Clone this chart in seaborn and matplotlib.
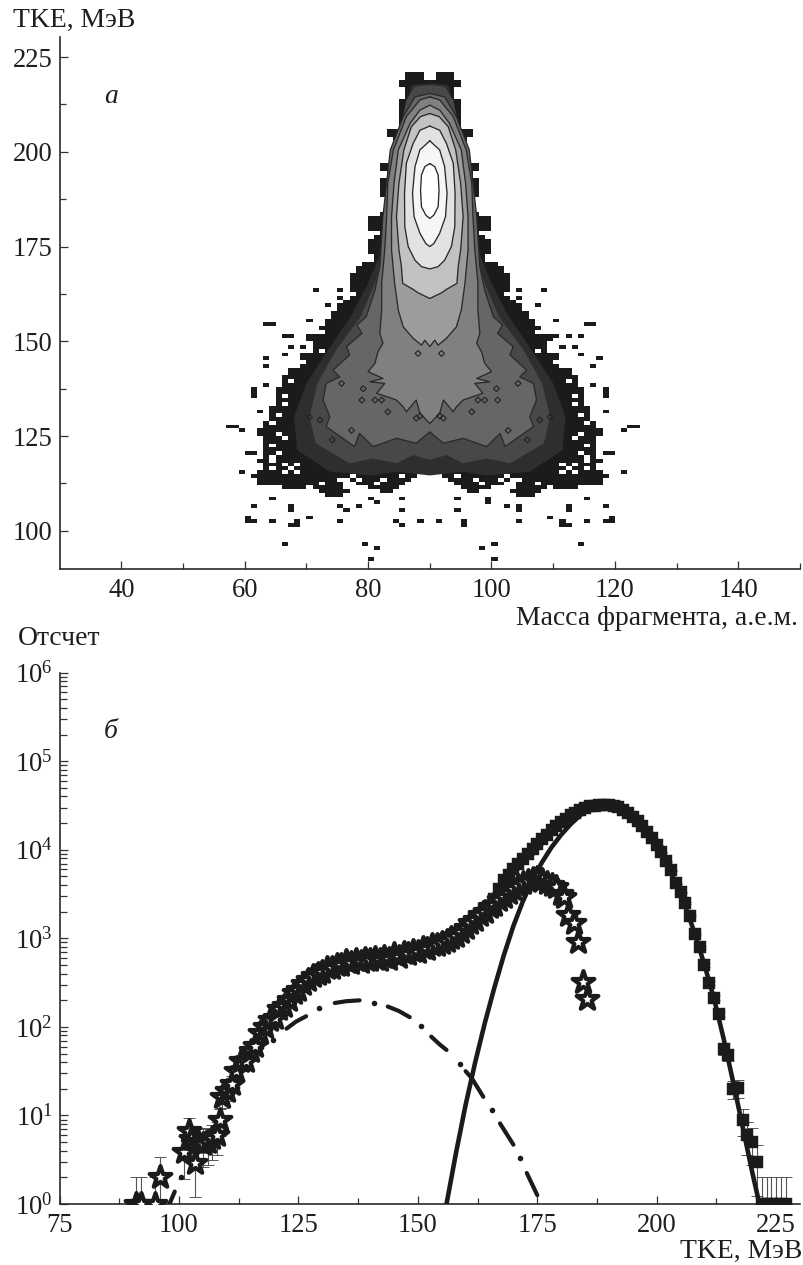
import numpy as np
import pandas as pd
import seaborn as sns
import matplotlib
matplotlib.use("Agg")
import matplotlib.pyplot as plt
from matplotlib.colors import ListedColormap
from matplotlib.ticker import FixedLocator, NullFormatter

# ---------- panel a: TKE vs fragment mass, mirrored about the centre mass ----------
centre_mass = 90
mass_ticks = [40, 60, 80, 100, 120, 140]
mass_minor = [50, 70, 90, 110, 130, 150]
tke_ticks_a = [100, 125, 150, 175, 200, 225]
tke_minor_a = [112.5, 137.5, 162.5, 187.5, 212.5]

# contour outlines (TKE, half-width in mass units) from the outermost to the innermost
tke_c9 = [218, 217.6, 209.3, 191.7, 174.1, 165.3, 156.5, 147.7, 138.9, 130.1, 121.3, 115.6, 114.6, 115.6, 114.6]
hw_c9 = [0, 3, 4, 6.2, 7.8, 10, 12.8, 16.5, 20, 22, 21.5, 16.2, 9.2, 5.4, 0]
tke_c8 = [217.6, 217.2, 213.7, 204.9, 191.7, 174.1, 165.3, 156.5, 147.7, 138.9, 130.1, 123.1, 117.8, 119.1, 117.8, 120, 118.7]
hw_c8 = [0, 2.4, 3.8, 4.9, 5.8, 7.2, 8.9, 11.2, 15.2, 18.2, 19.5, 18.5, 13, 9.2, 5.4, 2.7, 0]
tke_c7 = [215.4, 214.5, 209.3, 200.5, 182.9, 169.7, 163.5, 156.5, 154.3, 152.1, 148.6, 146.4, 142.4, 140.6, 138.9, 134.5, 130.1, 127.5, 124.4, 122.2, 125.7, 122.2, 124.4, 123.1, 126.1]
hw_c7 = [0, 2.4, 4.3, 6.4, 7.6, 8.1, 8.9, 10.3, 11.8, 11, 13.5, 13, 15.7, 14.6, 16.8, 17.3, 16.2, 16.8, 14.1, 12.2, 11.4, 9.2, 5.4, 2.2, 0]
tke_c6 = [214.5, 213.7, 209.3, 200.5, 191.7, 182.9, 174.1, 165.3, 158.2, 152.1, 149.5, 147.2, 144.2, 142, 140.2, 139.3, 138.9, 136.3, 134.5, 132.7, 131.4, 134.5, 131, 128.3]
hw_c6 = [0, 1.6, 3.8, 5.9, 6.8, 7, 7.3, 7.8, 7.8, 8.1, 7.6, 8.4, 8.9, 10, 7.6, 9.7, 7.3, 8.6, 5.4, 4.3, 3.8, 2.2, 1.6, 0]
tke_c5 = [212.3, 211, 207.5, 200.5, 191.7, 182.9, 174.1, 165.3, 158.2, 153.8, 150.8, 149, 150.3, 148.6]
hw_c5 = [0, 1.6, 3.2, 5.1, 5.8, 6.2, 6.2, 5.7, 5.1, 4.3, 2.7, 1.35, 0.8, 0]
tke_c4 = [210.1, 209.3, 206.6, 200.5, 191.7, 182.9, 174.1, 169.7, 165.3, 163.7, 162.8, 161.3]
hw_c4 = [0, 1.5, 3, 4.2, 5, 5.4, 5, 4.6, 4.4, 2.7, 1.9, 0]
tke_c3 = [206.8, 205.7, 202.2, 197, 189, 180.2, 175, 171.4, 169.7, 169.1]
hw_c3 = [0, 1.6, 2.7, 3.8, 4.1, 4.05, 3.5, 2.4, 1.35, 0]
tke_c2 = [202.9, 200.5, 196.1, 189, 182.9, 178.5, 175.8, 175]
hw_c2 = [0, 1.6, 2.4, 2.8, 2.55, 1.6, 0.65, 0]
tke_c1 = [196.9, 196.1, 193.9, 189.9, 185.5, 183.3, 182.4]
hw_c1 = [0, 0.8, 1.35, 1.5, 1.35, 0.65, 0]
contour_greys = ["#2e2e2e", "#484848", "#666666", "#808080", "#9c9c9c", "#c2c2c2", "#e2e2e2", "#f6f6f6", "#ffffff"]

# outer jagged edge, one value per 1 MeV row from 220.5 downwards
black_top_tke = 220.5
black_outer_hw = [3.5, 3.5, 4.5, 4.5, 3.8, 3.8, 4, 4.3, 4.3, 4.6, 4.6, 4.8, 4.8, 5, 5, 6.5, 6.5, 5.5, 5.5, 5.5, 5.5, 6, 6, 6,
                  7.5, 7.5, 6.5, 6.5, 7.5, 7.5, 7.5, 7.5, 7.5, 7, 7, 7, 7, 7.5, 9.5, 9.5, 10, 9.5, 8, 9, 9.5, 10, 10, 9.5, 9, 9,
                  10.5, 11.5, 11.5, 13, 13, 13, 12.5, 12.5, 12, 13, 14, 15, 15, 16, 16, 16.5, 16.5, 18, 18, 19.5,
                  19.5, 19, 19, 18.5, 20.5, 20.5, 20, 20.5, 22.5, 22.5, 23.5, 23.5, 23.5, 24.5, 24.5, 25, 25, 25, 26, 26,
                  26, 26, 27, 27, 27, 27.5, 27, 26.5, 27, 27, 26.5, 26.5, 27.5, 26.5, 26.5, 27.5, 28.5]
# lower rows: TKE, inner and outer half-width of each contiguous span
span_tke = [113.5, 113.5, 112.5, 112.5, 111.5, 111.5, 110.5, 110.5, 109.5, 114.5]
span_inner = [3, 15, 4, 14, 5, 14, 13, 6, 14, 1.5]
span_outer = [13, 28, 12, 27, 10, 24, 18, 8, 17, 28.5]
notch_tke = [220.5, 219.5, 114.5, 114.5]
notch_hw = [0.5, 0.5, 0.5, 1.5]
# holes in the dark rim
hole_tke = [117.5, 117.5, 120.5, 116.5, 115.5, 125.5, 128.5, 133.5, 122.5, 118.5, 139.5, 119.5, 116.5, 147.5, 152.5,
            113.5, 113.5, 112.5, 112.5, 111.5, 114.5, 114.5, 115.5, 124.5, 135.5, 130.5]
hole_hw = [21.5, 23.5, 24.5, 22.5, 21.5, 24.5, 25.5, 23.5, 25.5, 25.5, 22.5, 25.5, 25.5, 17.5, 17.5,
           7.5, 11.5, 8.5, 17.5, 19.5, 4.5, 12.5, 23.5, 23.5, 23.5, 24.5]
# stray cells, mirrored
stray_hw = [18.1, 14.1, 14.1, 17, 20, 25.2, 26.2, 24, 22.2, 20, 27, 24, 26.2, 23, 21, 26.2, 28.1, 28.1, 28.1, 28, 27.6, 31, 32, 33,
            28.9, 29.9, 31, 27.8, 25.9, 28.1, 22.7, 28.9, 29.9, 25.3, 21.9, 29.5, 22.2, 19.7, 21.2, 22.2, 14.7, 14, 14.7, 5.5, 5,
            24, 10.4, 8.5, 10, 1.9, 4.7, 4.7, 9.5, 9, 12]
stray_tke = [163.8, 163.8, 161.6, 159.6, 155.6, 154.7, 154.7, 151.4, 151.4, 151.7, 145.5, 146.6, 143.7, 148.7, 148.7, 138.9, 137.5,
             136.5, 135.5, 131.7, 126.6, 126.6, 127.6, 127.6, 120.7, 120.7, 115.6, 112.7, 108.5, 106.5, 106.5, 102.5, 102.5, 102.5,
             102.5, 103.5, 105.5, 103.5, 101.5, 101.5, 102.5, 105.5, 106.5, 102.5, 101.5, 96.5, 96.5, 95.5, 92.5, 102.5, 108.5,
             105.5, 108.5, 107.5, 106.5]
# small closed contour loops inside the dark part
loop_hw = [6.8, 2.2, 1.6, 7.8, 11, 8.9, 14.3, 17.8, 10.8, 1.9, 12.7, 15.8, 19.5]
loop_tke = [131.4, 129.7, 130.3, 134.5, 134.5, 134.5, 138.9, 129.2, 137.5, 146.8, 126.5, 124, 130]

# ---------- panel b: counts vs TKE ----------
tke_ticks_b = [75, 100, 125, 150, 175, 200, 225]
tke_minor_b = [87.5, 112.5, 137.5, 162.5, 187.5, 212.5]
count_ticks = [1, 10, 100, 1000, 10000, 100000, 1000000]
star_tke = [91, 92, 95, 96, 101, 102, 102.6, 103.3, 104, 105, 106, 107, 108, 108.5, 109] + list(range(110, 181)) + [180.5, 181.5, 182.6, 183.5, 184.5, 185.5]
star_log = [0, 0, 0, 0.3, 0.59, 0.83, 0.73, 0.46, 0.7, 0.68, 0.7, 0.74, 0.78, 0.95, 1.21,
            1.28, 1.36, 1.5, 1.62, 1.62, 1.73, 1.78, 1.93, 2.0, 2.08, 2.1, 2.2, 2.24, 2.3, 2.38, 2.42, 2.49, 2.53, 2.58, 2.6, 2.62,
            2.66, 2.66, 2.7, 2.7, 2.74, 2.72, 2.75, 2.73, 2.77, 2.75, 2.78, 2.76, 2.79, 2.77, 2.82, 2.79, 2.84, 2.82, 2.86, 2.85,
            2.89, 2.88, 2.92, 2.93, 2.95, 2.97, 3.0, 3.03, 3.07, 3.12, 3.17, 3.21, 3.26, 3.3, 3.35, 3.38, 3.43, 3.47, 3.51, 3.56,
            3.59, 3.62, 3.65, 3.67, 3.68, 3.66, 3.62, 3.6, 3.58, 3.5, 3.47, 3.26, 3.17, 2.96, 2.51, 2.32]
square_tke = list(range(166, 228))
square_log = [3.44, 3.56, 3.66, 3.72, 3.78, 3.84, 3.9, 3.95, 4.01, 4.06, 4.12, 4.17, 4.22, 4.27, 4.31, 4.35, 4.39, 4.42, 4.45, 4.47,
              4.49, 4.5, 4.51, 4.51, 4.51, 4.5, 4.48, 4.45, 4.42, 4.37, 4.32, 4.27, 4.2, 4.13, 4.05, 3.97, 3.87, 3.77, 3.62, 3.52,
              3.4, 3.25, 3.05, 2.9, 2.7, 2.5, 2.33, 2.15, 1.75, 1.68, 1.3, 1.31, 0.95, 0.78, 0.7, 0.47, 0, 0, 0, 0, 0, 0]
fit_main_tke = [156, 158, 160, 162, 164, 166, 168, 170, 172, 174, 176, 178, 180, 182, 184, 186, 188, 190, 192, 194, 196, 198, 200,
                202, 204, 206, 208, 210, 212, 214, 216, 218, 220, 221.5]
fit_main_log = [0, 0.58, 1.12, 1.6, 2.04, 2.44, 2.81, 3.14, 3.42, 3.66, 3.86, 4.03, 4.17, 4.29, 4.39, 4.46, 4.5, 4.51, 4.48, 4.42, 4.33,
                4.2, 4.05, 3.86, 3.62, 3.36, 3.05, 2.7, 2.32, 1.87, 1.38, 0.87, 0.36, 0]
# the dash-dot curve: visible dashes and dots
dash_tke = [[98, 99.1], [122.5, 124.5, 126.6], [132.6, 135, 137.8], [143.7, 146, 148.3], [152.8, 154.6, 156], [160, 161.3, 163.7], [167.2, 170], [172.8, 175]]
dash_log = [[0, 0.14], [1.98, 2.06, 2.12], [2.27, 2.29, 2.3], [2.23, 2.18, 2.11], [1.89, 1.8, 1.74], [1.5, 1.42, 1.21], [0.91, 0.67], [0.35, 0.1]]
dot_tke = [100.5, 119.7, 129.4, 140.8, 150.6, 158.8, 165.5, 171.3]
dot_log = [0.31, 1.85, 2.21, 2.27, 2.01, 1.58, 1.06, 0.52]

# ---------- style ----------
sns.set_theme(style="ticks")
INK = "#1e1e1e"
plt.rcParams["font.family"] = ["Liberation Serif", "DejaVu Serif"]
plt.rcParams["mathtext.fontset"] = "custom"
plt.rcParams["mathtext.rm"] = "Liberation Serif"
plt.rcParams["mathtext.it"] = "Liberation Serif:italic"
plt.rcParams["mathtext.default"] = "rm"
plt.rcParams.update({"font.size": 19.2, "text.color": INK, "axes.labelcolor": INK, "xtick.color": "#333333",
                     "ytick.color": "#333333", "xtick.labelcolor": INK, "ytick.labelcolor": INK})

W, H = 804, 1265
fig = plt.figure(figsize=(W / 100, H / 100), dpi=100)


def add_axes(left, top, right, bottom):
    return fig.add_axes([left / W, 1 - bottom / H, (right - left) / W, (bottom - top) / H])


ax_a = add_axes(59.6, 37, 800, 568.7)
ax_b = add_axes(59.6, 672.7, 800, 1204)

# ---------- panel a ----------
cells = {"mass": [], "tke": []}


def add_cell(hw, tke):
    for sign in (-1, 1):
        cells["mass"].append(centre_mass + sign * hw)
        cells["tke"].append(tke)


holes = set(zip(hole_tke, hole_hw)) | set(zip(notch_tke, notch_hw))
for i, outer in enumerate(black_outer_hw):
    tke = black_top_tke - i
    if tke == 114.5:
        continue
    for k in range(int(np.ceil(outer))):
        if (tke, k + 0.5) not in holes:
            add_cell(k + 0.5, tke)
for t, lo, hi in zip(span_tke, span_inner, span_outer):
    for k in range(int(lo), int(np.ceil(hi))):
        if (t, k + 0.5) not in holes:
            add_cell(k + 0.5, t)
for h, t in zip(stray_hw, stray_tke):
    add_cell(h, t)

mass_edges = np.arange(30, 151, 1)
tke_edges = np.arange(90, 232, 1)
sns.histplot(data=pd.DataFrame(cells), x="mass", y="tke", bins=(mass_edges, tke_edges),
             cmap=ListedColormap(["#1b1b1b"]), thresh=0, cbar=False, ax=ax_a, zorder=1)

outlines = [(tke_c9, hw_c9), (tke_c8, hw_c8), (tke_c7, hw_c7), (tke_c6, hw_c6), (tke_c5, hw_c5),
            (tke_c4, hw_c4), (tke_c3, hw_c3), (tke_c2, hw_c2), (tke_c1, hw_c1)]
for n, ((t, h), grey) in enumerate(zip(outlines, contour_greys)):
    t = np.asarray(t, float)
    h = np.asarray(h, float)
    xs = np.r_[centre_mass - h, (centre_mass + h)[::-1]]
    ys = np.r_[t, t[::-1]]
    ax_a.fill(xs, ys, color=grey, lw=0, zorder=2 + n)
    if n >= 2:
        sns.lineplot(x=xs, y=ys, sort=False, estimator=None, color="#2a2a2a", lw=0.95, ax=ax_a, zorder=2.5 + n)

loops = np.asarray(loop_hw)
sns.scatterplot(x=np.r_[centre_mass - loops, centre_mass + loops], y=np.r_[loop_tke, loop_tke], marker="D", s=9,
                facecolor="none", edgecolor="#222222", linewidth=0.8, ax=ax_a, zorder=20)

ax_a.set_xlim(30, 150)
ax_a.set_ylim(90, 230.3)
ax_a.xaxis.set_major_locator(FixedLocator(mass_ticks))
ax_a.xaxis.set_minor_locator(FixedLocator(mass_minor))
ax_a.yaxis.set_major_locator(FixedLocator(tke_ticks_a))
ax_a.yaxis.set_minor_locator(FixedLocator(tke_minor_a))

# ---------- panel b ----------
star_y = 10.0 ** np.asarray(star_log)
square_y = 10.0 ** np.asarray(square_log)
ax_b.errorbar(star_tke, star_y, yerr=np.sqrt(star_y), fmt="none", ecolor="#555555", elinewidth=0.8, capsize=4, capthick=0.7, zorder=2)
ax_b.errorbar(square_tke, square_y, yerr=np.sqrt(square_y), fmt="none", ecolor="#555555", elinewidth=0.8, capsize=4, capthick=0.7, zorder=2)
sns.scatterplot(x=square_tke, y=square_y, marker="s", s=84, color="#1b1b1b", edgecolor="#1b1b1b", linewidth=0.3, ax=ax_b, zorder=3)
sns.lineplot(x=fit_main_tke, y=10.0 ** np.asarray(fit_main_log), color="#1b1b1b", lw=3.3, estimator=None, sort=False, ax=ax_b, zorder=4)
for dx, dy in zip(dash_tke, dash_log):
    seg = sns.lineplot(x=dx, y=10.0 ** np.asarray(dy), color="#1b1b1b", lw=3.0, estimator=None, sort=False, ax=ax_b, zorder=4)
    seg.lines[-1].set_solid_capstyle("round")
sns.scatterplot(x=dot_tke, y=10.0 ** np.asarray(dot_log), marker="o", s=16, color="#1b1b1b", linewidth=0, ax=ax_b, zorder=4)
sns.scatterplot(x=star_tke, y=star_y, marker="*", s=270, color="white", edgecolor="#1b1b1b", linewidth=3.0, ax=ax_b, zorder=5)

ax_b.set_yscale("log")
ax_b.set_xlim(75, 230)
ax_b.set_ylim(1, 1e6)
ax_b.xaxis.set_major_locator(FixedLocator(tke_ticks_b))
ax_b.xaxis.set_minor_locator(FixedLocator(tke_minor_b))
ax_b.yaxis.set_major_locator(FixedLocator(count_ticks))
ax_b.yaxis.set_minor_locator(FixedLocator([m * c for c in count_ticks[:-1] for m in range(2, 10)]))
ax_b.yaxis.set_minor_formatter(NullFormatter())

for ax in (ax_a, ax_b):
    sns.despine(ax=ax)
    ax.set_xlabel("")
    ax.set_ylabel("")
    ax.grid(False)
    for side in ("left", "bottom"):
        ax.spines[side].set_linewidth(1.2)
        ax.spines[side].set_color("#2a2a2a")
    ax.tick_params(which="major", direction="in", length=6, width=0.9, labelsize=19.2)
    ax.tick_params(which="minor", direction="in", length=4, width=0.9)
    ax.tick_params(axis="x", which="major", pad=6.5)
    ax.tick_params(axis="y", which="major", pad=5)
ax_b.tick_params(axis="y", which="minor", length=5)


def put(x, y, s, ha="left", **kw):
    fig.text(x / W, 1 - y / H, s, ha=ha, va="baseline", fontsize=kw.pop("fontsize", 19.9), **kw)


put(13, 27, "TKE, МэВ")
put(798, 625, "Масса фрагмента, а.е.м.", ha="right")
put(18, 645, "Отсчет")
put(802, 1258, "TKE, МэВ", ha="right")
put(104, 103, "а", style="italic")
put(104, 738, "б", style="italic")

fig.savefig("out.png", dpi=100)
